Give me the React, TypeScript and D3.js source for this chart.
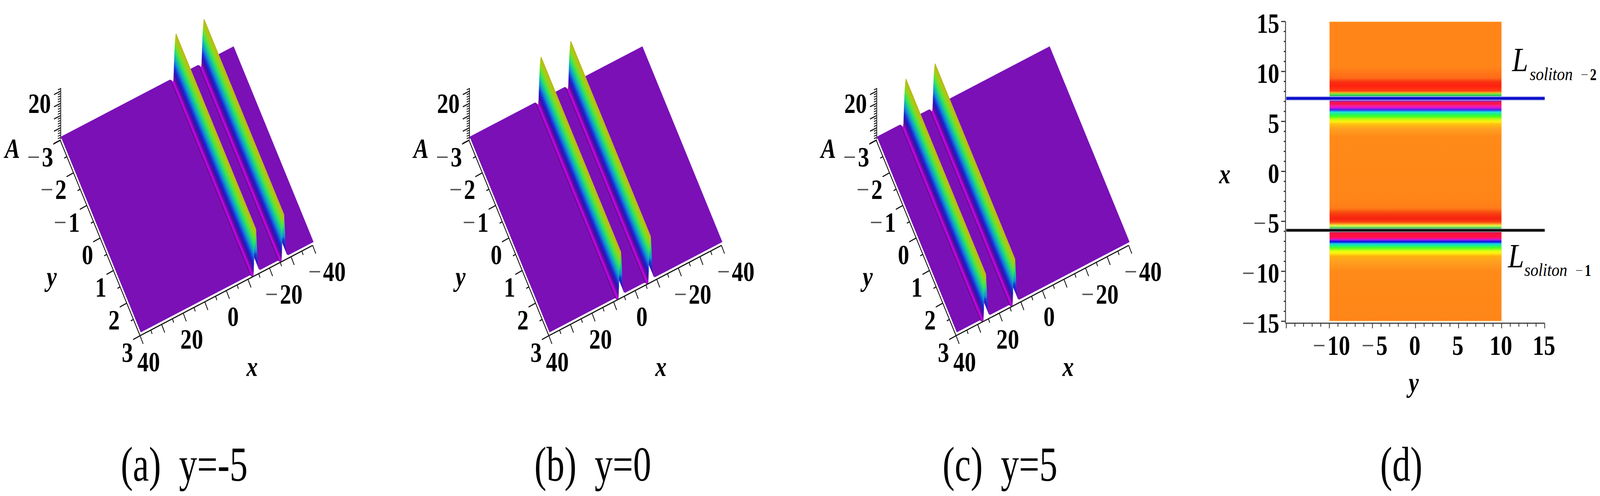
// Soliton surfaces at y=-5, 0, 5 and the matching density plot with its two soliton lines.
import * as d3 from 'd3';

const WIDTH = 6192;
const HEIGHT = 1269;
const SERIF = '"Liberation Serif", "Times New Roman", serif';

// ---- surface panels ----
const panelCaptions = ['(a)  y=-5', '(b)  y=0', '(c)  y=5'];
const panelLeft = [236, 1818, 3394];
const captionCenter = [713, 2294, 3870];
// x position of the magenta line of each soliton, far one first
const farSolitonX = [-24.8, -5.3, 14.6];
const nearSolitonX = [-11.8, 8.5, 28.1];

const groundA = -7.4;
// Cross-section of one soliton, read across the ridge. Offset runs towards -x from the magenta line.
const profileOffset = [3.6, 3.0, 2.5, 2.2, 1.9, 1.56, 1.4, 1.2, 1.0, 0.85, 0.7, 0.58, 0.48, 0.38, 0.25, -0.25, -0.45, -0.8, -1.15, -1.6];
const profileA = [-7.4, -6.5, -3, 2, 14, 27.6, 27, 24, 19, 14, 7, 0, -5, -8.6, -10, -10, -9, -8.2, -7.6, -7.4];
const profileShade = [1, 1, 0.95, 1, 1, 1, 1, 1, 1, 1, 1, 1, 0.8, 0.9, 1, 1, 0.9, 0.62, 0.85, 1];
// End cap of the ridge where it is cut off at y=3
const capOffset = [0.75, 0.85, 1.2, 1.56, 1.9, 2.15];
const capA = [9.5, 14, 24, 27.6, 14, 5];

const xTicksMajor = [40, 30, 20, 10, 0, -10, -20, -30, -40];
const xTicksMinor = [35, 25, 15, 5, -5, -15, -25, -35];
const xTickLabels = [40, 20, 0, -20, -40];
const yTicksMajor = [-3, -2, -1, 0, 1, 2, 3];
const yTicksMinor = [-2.5, -1.5, -0.5, 0.5, 1.5, 2.5];
const yTickLabels = [-3, -2, -1, 0, 1, 2, 3];
const aTicksMajor = [-10, 0, 10, 20, 30];
const aTicksMinor = [-8, -6, -4, -2, 2, 4, 6, 8, 12, 14, 16, 18, 22, 24, 26, 28, 32];

// ---- density panel ----
const densityX = [
  15, 10.5, 9.34, 8.95, 8.56, 8.04, 7.91, 7.78, 7.58, 7.45, 7.1, 6.99, 6.8, 6.54, 6.37, 6.21, 6.08, 5.95, 5.76, 5.5, 5.24, 4.98, 4.72, 4.26, 3.5,
  -2.77, -3.68, -4.2, -4.72, -5.05, -5.24, -5.41, -5.57, -5.74, -6.03, -6.22, -6.55, -6.74, -6.87, -7.0, -7.13, -7.22, -7.39, -7.65, -7.98, -8.17, -8.5, -9.0, -10, -15,
];
const densityColor = [
  '#FF8518', '#FF8518', '#FF6A18', '#F83010', '#FF2010', '#FF4010', '#FFA020', '#90E030', '#20D060', '#1030C0', '#5010C0', '#D02090', '#FF1038', '#F020A0', '#E010E0', '#6020E0', '#2060F0', '#20E0E0', '#20F080', '#40FF20', '#C0F810', '#FFF010', '#FFC010', '#FFA020', '#FF8A18',
  '#FF8518', '#FF7C18', '#F84010', '#F82010', '#F84010', '#FF9020', '#F0F040', '#80F060', '#209060', '#902060', '#FF1040', '#FF1040', '#F010A0', '#A020F0', '#1010E0', '#1050E0', '#20C0F0', '#10F0A0', '#50FF20', '#E0FF10', '#FFF010', '#FFB010', '#FFA020', '#FF8A18', '#FF8518',
];
const densityTicks = [-15, -10, -5, 0, 5, 10, 15];
const densityMinor = d3.range(-15, 16);
const soliton2X = 7.3;
const soliton1X = -5.9;

// A (height) to colour: magenta dip, purple floor, then up through the rainbow to the olive crest
const hue = d3.scaleLinear<string>()
  .domain([-10, -7.4, -3, 1, 9, 12, 16, 20, 23, 27.6])
  .range(['#C000E8', '#7A10B6', '#4010C8', '#1020D8', '#10B8D4', '#10DCA0', '#30E050', '#80E020', '#A8D010', '#B8B818'])
  .clamp(true);

function Label({ x, y, size = 72, sx = 1.22, anchor = 'middle', bold = true, italic = false, fill = '#000', children }: any) {
  return (
    <text
      transform={`translate(${x},${y}) scale(${sx},1)`}
      fontFamily={SERIF}
      fontSize={size}
      fontWeight={bold ? 'bold' : 'normal'}
      fontStyle={italic ? 'italic' : 'normal'}
      textAnchor={anchor}
      fill={fill}
      style={{ whiteSpace: 'pre' }}
    >
      {children}
    </text>
  );
}

// The minus signs in the picture are thin and grey next to the bold digits
function tickText(v: number) {
  if (v >= 0) return String(v);
  return (
    <>
      <tspan fontWeight="normal" fill="#555">{'\u2212'}</tspan>
      <tspan dx={6}>{String(-v)}</tspan>
    </>
  );
}

function Surface({ index }: { index: number }) {
  const left = panelLeft[index];
  const xRun = d3.scaleLinear().domain([40, -40]).range([0, 668]);
  const xRise = d3.scaleLinear().domain([40, -40]).range([0, -231]);
  const yRun = d3.scaleLinear().domain([-3, 3]).range([0, 309]);
  const yDrop = d3.scaleLinear().domain([-3, 3]).range([0, 500]);
  const aPos = d3.scaleLinear().domain([-10, 30]).range([358, 233]);
  const project = (x: number, y: number, a: number): [number, number] => [
    left + xRun(x) + yRun(y),
    aPos(a) + xRise(x) + yDrop(y),
  ];
  const axisPoint = (x: number, y: number): [number, number] => {
    const [px, py] = project(x, y, groundA);
    return [px - 3, py + 9];
  };

  // Samples running from the far edge to the near edge, painted in that order
  const samples: { x: number; a: number; shade: number }[] = [{ x: -40, a: groundA, shade: 1 }];
  [farSolitonX[index], nearSolitonX[index]].forEach((c) => {
    profileOffset.forEach((o, i) => samples.push({ x: c - o, a: profileA[i], shade: profileShade[i] }));
  });
  samples.push({ x: 40, a: groundA, shade: 1 });

  const sampleColor = (s: { a: number; shade: number }) => d3.interpolateRgb(hue(s.a), '#000')(1 - s.shade);

  // normal of the ridge direction on screen, for the strip gradients
  const dirLen = Math.hypot(309, 500);
  const nx = 500 / dirLen;
  const ny = -309 / dirLen;
  const line = d3.line();

  const strips = d3.pairs(samples).map(([far, near], i) => {
    const a = project(near.x, -3, near.a);
    const b = project(far.x, -3, far.a);
    const c = project(far.x, 3, far.a);
    const d = project(near.x, 3, near.a);
    const along = (b[0] - a[0]) * nx + (b[1] - a[1]) * ny;
    return {
      id: `s${index}-${i}`,
      path: line([a, b, c, d])! + 'Z',
      x1: a[0],
      y1: a[1],
      x2: a[0] + along * nx,
      y2: a[1] + along * ny,
      from: sampleColor(near),
      to: sampleColor(far),
    };
  });

  const caps = [farSolitonX[index], nearSolitonX[index]].map((c) =>
    line(capOffset.map((o, i) => project(c - o, 3, capA[i])))! + 'Z');

  const xAxisStart = axisPoint(40, 3);
  const xAxisEnd = axisPoint(-40, 3);
  const yAxisStart = axisPoint(40, -3);
  const zBase = left - 1;

  return (
    <g>
      <defs>
        {strips.map((s) => (
          <linearGradient key={s.id} id={s.id} gradientUnits="userSpaceOnUse" x1={s.x1} y1={s.y1} x2={s.x2} y2={s.y2}>
            <stop offset="0" stopColor={s.from} />
            <stop offset="1" stopColor={s.to} />
          </linearGradient>
        ))}
        <linearGradient id={`cap${index}`} x1="0" y1="0" x2="0" y2="1">
          <stop offset="0" stopColor={hue(24)} />
          <stop offset="0.45" stopColor={hue(14)} />
          <stop offset="0.8" stopColor={hue(7)} />
          <stop offset="1" stopColor={hue(2)} />
        </linearGradient>
      </defs>

      {strips.map((s) => (
        <path key={s.id} d={s.path} fill={`url(#${s.id})`} stroke={`url(#${s.id})`} strokeWidth={0.8} strokeLinejoin="round" />
      ))}
      {caps.map((d, i) => <path key={i} d={d} fill={`url(#cap${index})`} />)}

      {/* A axis */}
      <line x1={zBase} x2={zBase} y1={225} y2={356} stroke="#222" strokeWidth={3} />
      {aTicksMajor.map((v) => (
        <line key={v} x1={zBase} y1={aPos(v)} x2={zBase - 26} y2={aPos(v) + 9} stroke="#222" strokeWidth={3} />
      ))}
      {aTicksMinor.map((v) => (
        <line key={v} x1={zBase} y1={aPos(v)} x2={zBase - 11} y2={aPos(v) + 3} stroke="#222" strokeWidth={2.5} />
      ))}

      {/* y axis */}
      <line x1={yAxisStart[0]} y1={yAxisStart[1]} x2={xAxisStart[0]} y2={xAxisStart[1]} stroke="#111" strokeWidth={3} />
      {yTicksMajor.map((v) => {
        const [px, py] = axisPoint(40, v);
        return <line key={v} x1={px} y1={py} x2={px - 27} y2={py + 10} stroke="#111" strokeWidth={3} />;
      })}
      {yTicksMinor.map((v) => {
        const [px, py] = axisPoint(40, v);
        return <line key={v} x1={px} y1={py} x2={px - 10} y2={py + 4} stroke="#111" strokeWidth={3} />;
      })}

      {/* x axis */}
      <line x1={xAxisStart[0]} y1={xAxisStart[1]} x2={xAxisEnd[0]} y2={xAxisEnd[1]} stroke="#111" strokeWidth={3} />
      {xTicksMajor.map((v) => {
        const [px, py] = axisPoint(v, 3);
        return <line key={v} x1={px} y1={py} x2={px + 12} y2={py + 21} stroke="#111" strokeWidth={3} />;
      })}
      {xTicksMinor.map((v) => {
        const [px, py] = axisPoint(v, 3);
        return <line key={v} x1={px} y1={py} x2={px + 5} y2={py + 10} stroke="#111" strokeWidth={3} />;
      })}

      {/* tick labels */}
      <Label x={left - 83} y={289}>20</Label>
      <Label x={left - 188} y={404} italic>A</Label>
      {yTickLabels.map((v) => {
        const [px, py] = axisPoint(40, v);
        return <Label key={v} x={px - 27} y={py + 67} anchor="end">{tickText(v)}</Label>;
      })}
      {xTickLabels.map((v) => {
        const [px, py] = axisPoint(v, 3);
        const len = String(v).length;
        const dx = len === 1 ? 48 : len === 2 ? 77 : 128;
        return <Label key={v} x={px + dx} y={py + 91} anchor="end">{tickText(v)}</Label>;
      })}
      <Label x={left - 36} y={732} italic>y</Label>
      <Label x={left + 740} y={962} italic>x</Label>

      <Label x={captionCenter[index]} y={1230} size={125} sx={1.12} bold={false}>{panelCaptions[index]}</Label>
    </g>
  );
}

function Density() {
  const yScale = d3.scaleLinear().domain([-15, 15]).range([4978, 5978]);
  const xScale = d3.scaleLinear().domain([-15, 15]).range([822, 55]);
  const axisBottom = 827;
  const axisLeft = 4975;

  return (
    <g>
      <defs>
        <linearGradient id="density" gradientUnits="userSpaceOnUse" x1={0} x2={0} y1={xScale(15)} y2={xScale(-15)}>
          {densityX.map((v, i) => (
            <stop key={i} offset={(xScale(v) - xScale(15)) / (xScale(-15) - xScale(15))} stopColor={densityColor[i]} />
          ))}
        </linearGradient>
      </defs>
      <rect
        x={yScale(-10)}
        y={xScale(15)}
        width={yScale(10) - yScale(-10)}
        height={xScale(-15) - xScale(15)}
        fill="url(#density)"
        stroke="#FFE6C4"
        strokeWidth={2}
      />

      {/* soliton lines */}
      <line x1={yScale(-15)} x2={yScale(15)} y1={xScale(soliton2X)} y2={xScale(soliton2X)} stroke="#B8BCF0" strokeWidth={11} />
      <line x1={yScale(-15)} x2={yScale(15)} y1={xScale(soliton2X)} y2={xScale(soliton2X)} stroke="#0A10C8" strokeWidth={7} />
      <line x1={yScale(-15)} x2={yScale(15)} y1={xScale(soliton1X)} y2={xScale(soliton1X)} stroke="#B0B0B0" strokeWidth={9} />
      <line x1={yScale(-15)} x2={yScale(15)} y1={xScale(soliton1X)} y2={xScale(soliton1X)} stroke="#000" strokeWidth={6} />

      {/* axes */}
      <line x1={axisLeft} x2={axisLeft} y1={xScale(15)} y2={axisBottom} stroke="#444" strokeWidth={3.5} />
      <line x1={axisLeft} x2={yScale(15)} y1={axisBottom} y2={axisBottom} stroke="#555" strokeWidth={3.5} />
      {densityMinor.map((v) => {
        const major = densityTicks.includes(v);
        return (
          <g key={v}>
            <line x1={axisLeft} x2={axisLeft - (major ? 17 : 7)} y1={xScale(v)} y2={xScale(v)} stroke="#333" strokeWidth={3} />
            <line x1={yScale(v)} x2={yScale(v)} y1={axisBottom} y2={axisBottom + (major ? 13 : 9)} stroke="#333" strokeWidth={3} />
          </g>
        );
      })}
      {densityTicks.map((v) => (
        <Label key={v} x={4951} y={xScale(v) + 29} anchor="end">{tickText(v)}</Label>
      ))}
      {densityTicks.filter((v) => v > -15).map((v) => (
        <Label key={v} x={yScale(v) + (v < 0 ? 8 : -3)} y={908}>{tickText(v)}</Label>
      ))}
      <Label x={4740} y={469} italic>x</Label>
      <Label x={5471} y={1003} italic>y</Label>

      {/* line names */}
      <Label x={5852} y={182} size={86} sx={1.3} bold={false} italic anchor="start">L</Label>
      <Label x={5920} y={205} size={46} sx={1.33} bold={false} italic anchor="start">soliton</Label>
      <Label x={6118} y={205} size={42} sx={1.2} anchor="start">{tickText(-2)}</Label>
      <Label x={5836} y={684} size={86} sx={1.3} bold={false} italic anchor="start">L</Label>
      <Label x={5899} y={706} size={46} sx={1.33} bold={false} italic anchor="start">soliton</Label>
      <Label x={6097} y={706} size={42} sx={1.2} anchor="start">{tickText(-1)}</Label>

      <Label x={5423} y={1230} size={125} sx={1.12} bold={false}>(d)</Label>
    </g>
  );
}

export default function App() {
  return (
    <svg
      viewBox={`0 0 ${WIDTH} ${HEIGHT}`}
      preserveAspectRatio="none"
      style={{ position: 'fixed', left: 0, top: 0, width: '100vw', height: '100vh', background: '#fff' }}
    >
      {panelLeft.map((_, i) => <Surface key={i} index={i} />)}
      <Density />
    </svg>
  );
}
